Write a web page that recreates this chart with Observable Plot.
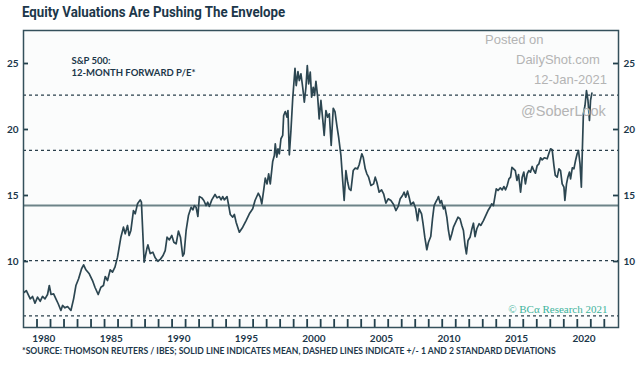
<!DOCTYPE html>
<html><head><meta charset="utf-8">
<script src="https://cdn.jsdelivr.net/npm/d3@7"></script>
<script src="https://cdn.jsdelivr.net/npm/@observablehq/plot@0.6"></script>
<style>
body{margin:0;background:#fff;width:640px;height:371px;position:relative;overflow:hidden;}
#title{position:absolute;left:22px;top:3px;font-family:"Roboto",sans-serif;font-weight:bold;font-size:15.5px;color:#1c374a;white-space:nowrap;transform-origin:0 0;}
#chart{position:absolute;left:0;top:22px;}
#foot{position:absolute;left:22px;top:346px;font-family:Lato,sans-serif;font-weight:bold;font-size:8.6px;color:#1c374a;white-space:nowrap;}
.wm{position:absolute;color:#b4b4b4;font-family:"Liberation Sans",Arial,sans-serif;font-size:13px;white-space:nowrap;}
</style></head>
<body>
<div id="title">Equity Valuations Are Pushing The Envelope</div>
<div id="chart"></div>
<div id="foot">*SOURCE: THOMSON REUTERS / IBES; SOLID LINE INDICATES MEAN, DASHED LINES INDICATE +/- 1 AND 2 STANDARD DEVIATIONS</div>
<div class="wm" style="left:485px;top:32px;">Posted on</div>
<div class="wm" style="left:516px;top:52px;">DailyShot.com</div>
<div class="wm" style="left:534px;top:72px;">12-Jan-2021</div>
<div class="wm" style="left:521px;top:103px;font-size:14.5px;">@SoberLook</div>
<script>
const years = [
1979.06,1979.21,1979.50,1979.67,1979.85,1980.04,1980.24,1980.41,1980.59,1980.78,1980.91,
1981.04,1981.23,1981.40,1981.57,1981.77,1981.89,1982.07,1982.26,1982.51,1982.71,1982.88,
1983.08,1983.30,1983.45,1983.62,1983.87,1984.11,1984.29,1984.53,1984.73,1984.92,
1985.05,1985.22,1985.42,1985.59,1985.77,1985.96,1986.21,1986.40,1986.53,1986.70,1986.82,1986.95,
1987.14,1987.27,1987.44,1987.64,1987.73,1987.93,1988.13,1988.21,1988.38,1988.58,1988.75,1988.95,
1989.14,1989.32,1989.49,1989.63,1989.80,1989.98,1990.13,1990.30,1990.47,1990.62,1990.79,1990.89,
1991.04,1991.21,1991.41,1991.54,1991.65,1991.78,1991.91,1992.02,1992.20,1992.35,1992.52,1992.64,1992.76,1992.94,
1993.18,1993.33,1993.50,1993.63,1993.75,1993.87,1994.07,1994.17,1994.31,1994.49,1994.61,1994.74,1994.98,
1995.23,1995.48,1995.72,1995.97,1996.14,1996.38,1996.53,1996.64,1996.78,1996.90,
1997.03,1997.15,1997.27,1997.45,1997.57,1997.64,1997.75,1997.84,1997.94,
1998.06,1998.19,1998.26,1998.38,1998.51,1998.58,1998.68,1998.80,1998.93,
1999.10,1999.19,1999.32,1999.42,1999.54,1999.67,1999.79,1999.91,
2000.01,2000.11,2000.23,2000.33,2000.45,2000.55,2000.65,2000.78,2000.89,
2001.02,2001.15,2001.26,2001.39,2001.52,2001.64,2001.78,2001.93,
2002.06,2002.20,2002.33,2002.50,2002.63,2002.74,2002.87,
2003.00,2003.11,2003.24,2003.41,2003.56,2003.73,2003.85,
2004.05,2004.15,2004.30,2004.42,2004.55,2004.72,2004.92,
2005.04,2005.16,2005.33,2005.51,2005.66,2005.83,
2006.00,2006.20,2006.40,2006.57,2006.74,2006.89,
2007.06,2007.18,2007.30,2007.43,2007.55,2007.67,2007.87,
2008.04,2008.17,2008.29,2008.47,2008.58,2008.71,2008.86,2008.98,
2009.15,2009.28,2009.40,2009.52,2009.65,2009.72,2009.84,2009.94,
2010.09,2010.19,2010.34,2010.46,2010.58,2010.71,2010.83,
2011.00,2011.17,2011.32,2011.45,2011.57,2011.69,2011.79,2011.91,
2012.06,2012.18,2012.31,2012.43,2012.56,2012.73,2012.85,
2013.05,2013.22,2013.39,2013.54,2013.66,2013.79,
2014.00,2014.13,2014.30,2014.44,2014.57,2014.69,2014.81,2014.94,
2015.06,2015.16,2015.28,2015.41,2015.53,2015.65,2015.80,2015.92,
2016.04,2016.16,2016.29,2016.41,2016.53,2016.66,2016.78,2016.90,
2017.03,2017.16,2017.28,2017.40,2017.57,2017.77,2017.90,
2018.02,2018.14,2018.27,2018.37,2018.51,2018.64,2018.76,2018.88,
2019.01,2019.08,2019.20,2019.30,2019.42,2019.50,2019.63,2019.75,2019.87,2019.99,
2020.09,2020.20,2020.30,2020.37,2020.45,2020.57,2020.68,2020.79,2020.90,2020.98,2021.08
];
const forwardPE = [
7.67,7.80,7.17,7.35,6.84,7.30,6.99,7.35,7.17,7.50,8.18,
7.50,7.55,7.17,6.80,6.29,6.67,6.49,6.59,6.29,7.17,8.18,
8.69,9.45,9.75,9.37,9.07,8.56,8.05,7.50,8.05,8.18,
8.86,8.56,9.37,9.19,9.57,10.33,11.84,12.60,12.10,12.73,11.97,12.35,
13.86,13.61,14.37,14.67,14.50,9.95,10.96,11.26,10.60,10.70,10.28,10.02,
10.18,10.43,10.83,11.84,11.64,11.97,11.46,11.34,12.30,11.84,10.40,10.60,
12.35,13.48,14.11,13.91,14.24,14.11,13.41,14.92,14.82,14.62,14.24,14.49,14.17,14.67,
15.08,14.82,14.92,14.67,14.92,14.67,14.92,14.37,13.56,13.36,13.56,12.98,12.22,
12.60,13.10,13.61,13.99,14.62,15.17,14.87,14.37,15.38,16.31,
15.88,16.64,15.88,17.58,18.03,18.92,17.90,18.54,18.16,
19.30,19.55,21.06,21.36,20.93,21.44,18.08,19.92,22.33,
24.64,23.33,24.39,23.71,24.22,23.20,22.07,23.20,
24.85,23.46,24.34,22.45,23.20,22.58,23.64,22.45,20.80,
22.20,20.80,19.55,21.44,20.93,21.19,18.79,21.61,
21.36,20.30,19.42,18.03,16.14,14.62,16.89,
16.00,15.50,15.38,16.89,17.07,17.02,17.33,
18.16,17.90,17.02,16.64,16.39,15.76,15.88,
16.39,16.00,15.25,15.43,15.13,14.42,
14.75,14.62,14.32,13.86,14.17,14.75,
15.00,15.25,14.87,15.33,14.87,14.32,14.49,
13.99,13.10,13.99,13.61,12.86,11.84,10.89,11.46,
11.89,13.23,14.24,14.49,14.75,14.92,14.42,14.62,
13.99,14.17,13.36,12.35,11.64,12.10,12.60,
12.98,13.36,13.23,12.73,12.35,11.21,10.58,11.59,
11.84,12.40,12.90,11.89,12.48,12.86,12.73,
13.10,13.48,13.86,14.11,14.37,14.24,
15.50,15.38,15.58,15.43,15.68,15.43,15.76,16.26,
16.39,17.14,17.02,16.89,16.14,16.59,15.25,16.39,
16.77,15.88,16.64,16.89,16.77,17.20,16.89,16.69,
17.27,17.40,17.86,17.70,17.86,17.78,18.20,
18.54,18.46,17.27,16.52,16.39,17.02,16.89,15.88,
15.63,14.62,15.88,16.39,16.77,16.26,17.10,17.02,17.65,18.16,
18.41,17.40,15.63,18.28,21.19,21.82,22.95,22.20,20.68,22.20,22.75
];
const meanLevel = [14.24];
const sdLevels = [5.88, 10.06, 18.42, 22.60];
const yTicks = [10, 15, 20, 25];
const tickYears = d3.range(1980, 2023);
const labelYears = [1980, 1985, 1990, 1995, 2000, 2005, 2010, 2015, 2020];
const seriesTitle = ["S&P 500:\n12-MONTH FORWARD P/E*"];
const credit = ["© BCα Research 2021"];

const data = years.map((y, i) => ({year: y, pe: forwardPE[i]}));
const ink = "#1c374a";
const axisInk = "#22404c";

const xDomain = [1979.0, 2023.05];
const yDomain = [5, 27.5];
const W = 640, H = 335, ML = 23, MR = 22, MT = 8, MB = 30;
const frameW = W - ML - MR, frameH = H - MT - MB;
// tick lengths expressed in data units (8px up, 5px in)
const xTickLen = 8 * (yDomain[1] - yDomain[0]) / frameH;
const yTickLen = 5 * (xDomain[1] - xDomain[0]) / frameW;

const chart = Plot.plot({
  width: W, height: H,
  marginLeft: ML, marginRight: MR, marginTop: MT, marginBottom: MB,
  x: {domain: xDomain, label: null},
  y: {domain: yDomain, label: null},
  style: {fontFamily: "Lato, sans-serif", fontWeight: 700, fontSize: "10px", color: ink, background: "transparent"},
  marks: [
    Plot.frame({fill: "#fbfcfc", stroke: null}),
    Plot.ruleY(sdLevels, {stroke: "#2a3f4b", strokeDasharray: "3,3", strokeWidth: 1.2}),
    Plot.ruleY(meanLevel, {stroke: "#6d8388", strokeWidth: 2}),
    Plot.line(data, {x: "year", y: "pe", stroke: "#2c4651", strokeWidth: 1.7}),
    // inward tick marks
    Plot.ruleX(tickYears, {x: d => d, y1: yDomain[0], y2: yDomain[0] + xTickLen, stroke: axisInk, strokeWidth: 1.8}),
    Plot.ruleY(yTicks, {y: d => d, x1: xDomain[0], x2: xDomain[0] + yTickLen, stroke: axisInk, strokeWidth: 1.8}),
    Plot.ruleY(yTicks, {y: d => d, x1: xDomain[1] - yTickLen, x2: xDomain[1], stroke: axisInk, strokeWidth: 1.8}),
    // tick labels
    Plot.axisY({anchor: "left", ticks: yTicks, tickSize: 0, tickPadding: 5, fill: ink, label: null}),
    Plot.axisY({anchor: "right", ticks: yTicks, tickSize: 0, tickPadding: 5, fill: ink, label: null}),
    Plot.axisX({anchor: "bottom", ticks: labelYears.map(y => y + 0.5), tickSize: 0, tickPadding: 7, tickFormat: d => String(Math.floor(d)), fill: ink, label: null}),
    Plot.text(seriesTitle, {frameAnchor: "top-left", dx: 48, dy: 25, textAnchor: "start", lineAnchor: "top", fontSize: 9.5, lineHeight: 1.28, fill: ink, fontWeight: 700}),
    Plot.text(credit, {frameAnchor: "bottom-right", dx: -11, dy: -15, textAnchor: "end", lineAnchor: "bottom", fontSize: 11, fill: "#3db39b", fontFamily: "Liberation Serif, DejaVu Serif, serif", fontWeight: 400}),
    Plot.frame({stroke: "#34505b", strokeWidth: 1.5})
  ]
});
document.getElementById("chart").appendChild(chart);
const t = document.getElementById("title");
t.style.transform = `scaleX(${263 / t.offsetWidth})`;
</script>
</body></html>
